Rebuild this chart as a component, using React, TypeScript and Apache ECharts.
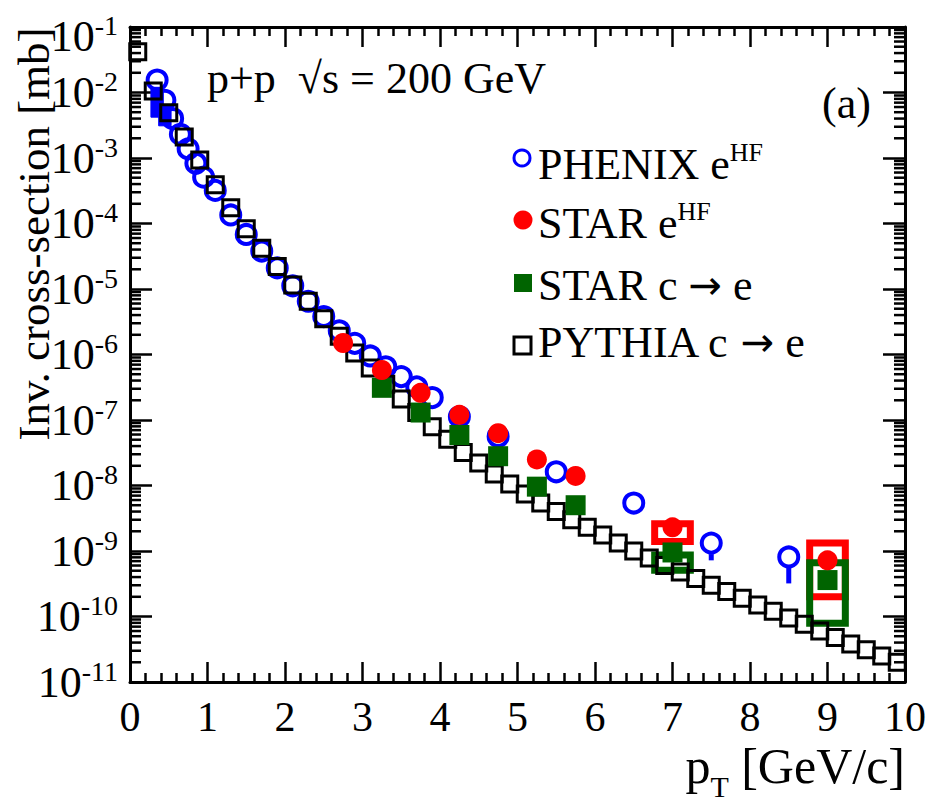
import React, { useEffect, useRef } from "react";
import * as echarts from "echarts";

const FONT = "'Liberation Serif', 'Times New Roman', serif";
const ARROW_FONT = "'DejaVu Sans', sans-serif";
const BLUE = "#0000ff";
const RED = "#ff0000";
const GREEN = "#006400";

// PYTHIA c -> e (bin centres in GeV/c, invariant cross-section in mb)
const pythiaPt = [
  0.1, 0.3, 0.5, 0.7, 0.9, 1.1, 1.3, 1.5, 1.7, 1.9,
  2.1, 2.3, 2.5, 2.7, 2.9, 3.1, 3.3, 3.5, 3.7, 3.9,
  4.1, 4.3, 4.5, 4.7, 4.9, 5.1, 5.3, 5.5, 5.7, 5.9,
  6.1, 6.3, 6.5, 6.7, 6.9, 7.1, 7.3, 7.5, 7.7, 7.9,
  8.1, 8.3, 8.5, 8.7, 8.9, 9.1, 9.3, 9.5, 9.7, 9.9,
];
const pythiaXsec = [
  4.2e-2, 1.05e-2, 4.9e-3, 2.1e-3, 9.3e-4, 3.9e-4, 1.74e-4, 8.3e-5, 4.2e-5, 2.2e-5,
  1.15e-5, 6.5e-6, 3.5e-6, 1.9e-6, 1.05e-6, 6.2e-7, 3.5e-7, 2.1e-7, 1.3e-7, 7.9e-8,
  5.1e-8, 3.2e-8, 2.2e-8, 1.5e-8, 1.05e-8, 7.4e-9, 5.4e-9, 4.0e-9, 3.0e-9, 2.3e-9,
  1.75e-9, 1.32e-9, 1.0e-9, 7.8e-10, 6.0e-10, 4.8e-10, 3.8e-10, 3.0e-10, 2.4e-10, 1.9e-10,
  1.5e-10, 1.2e-10, 9.5e-11, 7.6e-11, 6.0e-11, 4.8e-11, 3.8e-11, 3.1e-11, 2.5e-11, 2.0e-11,
];

// PHENIX heavy-flavour electrons
const phenixPt = [
  0.35, 0.45, 0.55, 0.65, 0.75, 0.85, 0.95, 1.1, 1.3, 1.5,
  1.7, 1.9, 2.1, 2.3, 2.5, 2.7, 2.9, 3.1, 3.3, 3.5,
  3.7, 3.9, 4.25, 4.75, 5.5, 6.5, 7.5, 8.5,
];
const phenixXsec = [
  1.55e-2, 7.6e-3, 4.0e-3, 2.3e-3, 1.38e-3, 8.3e-4, 5.1e-4, 3.2e-4, 1.35e-4, 6.8e-5,
  3.8e-5, 2.1e-5, 1.12e-5, 6.5e-6, 3.8e-6, 2.3e-6, 1.48e-6, 9.5e-7, 6.5e-7, 4.6e-7,
  3.2e-7, 2.2e-7, 1.12e-7, 5.6e-8, 1.62e-8, 5.4e-9, 1.32e-9, 8.1e-10,
];
// lower statistical error ends of the last PHENIX points
const phenixErrPt = [7.5, 8.5];
const phenixErrLow = [7.2e-10, 3.2e-10];
// low-pT systematic boxes
const phenixSystPt = [0.35, 0.45];
const phenixSystLow = [4.2e-3, 3.1e-3];
const phenixSystHigh = [1.2e-2, 6.5e-3];

// STAR heavy-flavour electrons
const starHfPt = [2.75, 3.25, 3.75, 4.25, 4.75, 5.25, 5.75, 7.0, 9.0];
const starHfXsec = [1.5e-6, 5.8e-7, 2.6e-7, 1.2e-7, 6.3e-8, 2.5e-8, 1.4e-8, 2.3e-9, 7.2e-10];
const starHfSystPt = [7.0, 9.0];
const starHfSystLow = [1.4e-9, 2.0e-10];
const starHfSystHigh = [2.6e-9, 1.32e-9];

// STAR charm -> electrons
const starCePt = [3.25, 3.75, 4.25, 4.75, 5.25, 5.75, 7.0, 9.0];
const starCeXsec = [3.1e-7, 1.3e-7, 5.9e-8, 2.8e-8, 9.6e-9, 5.0e-9, 9.5e-10, 3.6e-10];
const starCeSystPt = [7.0, 9.0];
const starCeSystLow = [5.1e-10, 7.9e-11];
const starCeSystHigh = [8.7e-10, 6.6e-10];

// axis ranges
const X_MIN = 0;
const X_MAX = 10;
const Y_MIN = 1e-11;
const Y_MAX = 1e-1;

// minor ticks of the logarithmic axis: 2..9 x 10^k
const yMinorTicks: number[] = [];
for (let e = -11; e < -1; e++) {
  for (let m = 2; m <= 9; m++) yMinorTicks.push(m * Math.pow(10, e));
}

const SYST_HALF_WIDTH = 0.23;

function boxSeries(pt: number[], lo: number[], hi: number[], color: string, filled: boolean, halfW: number) {
  return {
    type: "custom",
    silent: true,
    clip: false,
    data: pt.map((p, i) => [p, lo[i], hi[i]]),
    encode: { x: 0, y: [1, 2] },
    renderItem: (_params: any, api: any) => {
      const x = api.value(0);
      const a = api.coord([x - halfW, api.value(2)]);
      const b = api.coord([x + halfW, api.value(1)]);
      return {
        type: "rect",
        shape: { x: a[0], y: a[1], width: b[0] - a[0], height: b[1] - a[1] },
        style: filled
          ? { fill: color, stroke: color, lineWidth: 1 }
          : { fill: "none", stroke: color, lineWidth: 7 },
      };
    },
  };
}

export default function App() {
  const ref = useRef<HTMLDivElement>(null);

  useEffect(() => {
    document.body.style.margin = "0";
    const chart = echarts.init(ref.current!, undefined, { renderer: "svg" });

    const axisLine = { show: true, onZero: false, lineStyle: { color: "#000", width: 3 } };
    const tickStyle = { color: "#000", width: 2.5 };

    const yLabel = (v: number) => {
      const e = Math.round(Math.log10(v));
      if (e === -1) return `{bt|10}{st|${e}}`;
      return `{b|10}{s|${e}}`;
    };

    const legendRich = {
      a: { fontFamily: FONT, fontSize: 44, fill: "#000" },
      s: { fontFamily: FONT, fontSize: 26, fill: "#000", padding: [0, 0, 24, 0] },
      r: { fontFamily: ARROW_FONT, fontSize: 40, fill: "#000" },
    };

    const logAxis = (position: string, labels: boolean) => ({
      type: "log",
      logBase: 10,
      min: Y_MIN,
      max: Y_MAX,
      interval: 1,
      splitNumber: 10,
      position,
      axisLine,
      axisTick: { show: true, inside: true, length: 22, interval: 0, lineStyle: tickStyle },
      splitLine: { show: false },
      axisLabel: labels
        ? {
            interval: 0,
            hideOverlap: false,
            margin: 12,
            formatter: yLabel,
            rich: {
              b: { fontFamily: FONT, fontSize: 44, color: "#000" },
              s: { fontFamily: FONT, fontSize: 28, color: "#000", padding: [0, 0, 22, 0] },
              bt: { fontFamily: FONT, fontSize: 44, color: "#000", padding: [18, 0, 0, 0] },
              st: { fontFamily: FONT, fontSize: 28, color: "#000", padding: [18, 0, 22, 0] },
            },
          }
        : { show: false, interval: 0 },
    });

    const option: any = {
      animation: false,
      backgroundColor: "#fff",
      grid: { left: 130, right: 24, top: 27, bottom: 126 },
      xAxis: [
        {
          type: "value",
          min: X_MIN,
          max: X_MAX,
          interval: 1,
          position: "bottom",
          axisLine,
          axisTick: { show: true, inside: true, length: 20, lineStyle: tickStyle },
          minorTick: { show: true, splitNumber: 5, length: 9, lineStyle: tickStyle },
          splitLine: { show: false },
          minorSplitLine: { show: false },
          axisLabel: { margin: 14, fontFamily: FONT, fontSize: 42, color: "#000" },
        },
        {
          type: "value",
          min: X_MIN,
          max: X_MAX,
          interval: 1,
          position: "top",
          axisLine,
          axisTick: { show: true, inside: true, length: 20, lineStyle: tickStyle },
          minorTick: { show: true, splitNumber: 5, length: 9, lineStyle: tickStyle },
          splitLine: { show: false },
          axisLabel: { show: false },
        },
      ],
      yAxis: [logAxis("left", true), logAxis("right", false)],
      series: [
        boxSeries(phenixSystPt, phenixSystLow, phenixSystHigh, BLUE, true, 0.08),
        {
          type: "custom",
          silent: true,
          clip: false,
          data: phenixErrPt.map((p, i) => [p, phenixErrLow[i], phenixXsec[phenixPt.indexOf(p)]]),
          encode: { x: 0, y: [1, 2] },
          renderItem: (_params: any, api: any) => {
            const lo = api.coord([api.value(0), api.value(1)]);
            const c = api.coord([api.value(0), api.value(2)]);
            return {
              type: "line",
              shape: { x1: lo[0], y1: lo[1], x2: c[0], y2: c[1] + 11 },
              style: { stroke: BLUE, lineWidth: 5 },
            };
          },
        },
        {
          name: "PHENIX",
          type: "scatter",
          silent: true,
          symbol: "circle",
          symbolSize: 19,
          itemStyle: { color: "transparent", borderColor: BLUE, borderWidth: 4, opacity: 1 },
          data: phenixPt.map((p, i) => [p, phenixXsec[i]]),
        },
        {
          name: "PYTHIA",
          type: "scatter",
          silent: true,
          symbol: "rect",
          symbolSize: 16,
          itemStyle: { color: "transparent", borderColor: "#000", borderWidth: 3, opacity: 1 },
          data: pythiaPt.map((p, i) => [p, pythiaXsec[i]]),
        },
        boxSeries(starHfSystPt, starHfSystLow, starHfSystHigh, RED, false, SYST_HALF_WIDTH),
        boxSeries(starCeSystPt, starCeSystLow, starCeSystHigh, GREEN, false, SYST_HALF_WIDTH),
        {
          name: "STAR c->e",
          type: "scatter",
          silent: true,
          symbol: "rect",
          symbolSize: 20,
          itemStyle: { color: GREEN, opacity: 1 },
          data: starCePt.map((p, i) => [p, starCeXsec[i]]),
        },
        {
          name: "STAR eHF",
          type: "scatter",
          silent: true,
          symbol: "circle",
          symbolSize: 20,
          itemStyle: { color: RED, opacity: 1 },
          data: starHfPt.map((p, i) => [p, starHfXsec[i]]),
        },
        {
          type: "custom",
          silent: true,
          clip: false,
          z: 10,
          data: yMinorTicks.map((v) => [X_MIN, v]),
          encode: { x: 0, y: 1 },
          renderItem: (params: any, api: any) => {
            const cs = params.coordSys;
            const y = api.coord([X_MIN, api.value(1)])[1];
            return {
              type: "group",
              children: [
                { type: "line", shape: { x1: cs.x, y1: y, x2: cs.x + 11, y2: y }, style: { stroke: "#000", lineWidth: 2.5 } },
                {
                  type: "line",
                  shape: { x1: cs.x + cs.width - 11, y1: y, x2: cs.x + cs.width, y2: y },
                  style: { stroke: "#000", lineWidth: 2.5 },
                },
              ],
            };
          },
        },
      ],
      graphic: [
        {
          type: "text",
          x: 34,
          y: 234,
          rotation: Math.PI / 2,
          style: {
            text: "Inv. cross-section [mb]",
            fontFamily: FONT,
            fontSize: 45,
            fill: "#000",
            align: "center",
            verticalAlign: "middle",
          },
        },
        {
          type: "text",
          x: 905,
          y: 766,
          style: {
            text: "{a|p}{t|T}{a| [GeV/c]}",
            align: "right",
            verticalAlign: "middle",
            rich: {
              a: { fontFamily: FONT, fontSize: 50, fill: "#000" },
              t: { fontFamily: FONT, fontSize: 30, fill: "#000", padding: [40, 0, 0, 0] },
            },
          },
        },
        {
          type: "text",
          x: 207,
          y: 78,
          style: {
            text: "p+p  \u221As = 200 GeV",
            fontFamily: FONT,
            fontSize: 44,
            fill: "#000",
            align: "left",
            verticalAlign: "middle",
          },
        },
        {
          type: "text",
          x: 822,
          y: 103,
          style: { text: "(a)", fontFamily: FONT, fontSize: 44, fill: "#000", align: "left", verticalAlign: "middle" },
        },
        // legend
        { type: "circle", shape: { cx: 522, cy: 158, r: 8 }, style: { fill: "none", stroke: BLUE, lineWidth: 3 } },
        { type: "circle", shape: { cx: 523, cy: 220, r: 9.5 }, style: { fill: RED } },
        { type: "rect", shape: { x: 514, y: 274, width: 18, height: 18 }, style: { fill: GREEN } },
        { type: "rect", shape: { x: 514, y: 337, width: 17, height: 17 }, style: { fill: "none", stroke: "#000", lineWidth: 3 } },
        {
          type: "text",
          x: 538,
          y: 164,
          style: { text: "{a|PHENIX e}{s|HF}", align: "left", verticalAlign: "middle", rich: legendRich },
        },
        {
          type: "text",
          x: 538,
          y: 223,
          style: { text: "{a|STAR e}{s|HF}", align: "left", verticalAlign: "middle", rich: legendRich },
        },
        {
          type: "text",
          x: 538,
          y: 285,
          style: { text: "{a|STAR c }{r|\u2192}{a| e}", align: "left", verticalAlign: "middle", rich: legendRich },
        },
        {
          type: "text",
          x: 538,
          y: 342,
          style: { text: "{a|PYTHIA c }{r|\u2192}{a| e}", align: "left", verticalAlign: "middle", rich: legendRich },
        },
      ],
    };

    chart.setOption(option);
    return () => chart.dispose();
  }, []);

  return <div ref={ref} style={{ position: "fixed", left: 0, top: 0, width: 929, height: 808 }} />;
}
